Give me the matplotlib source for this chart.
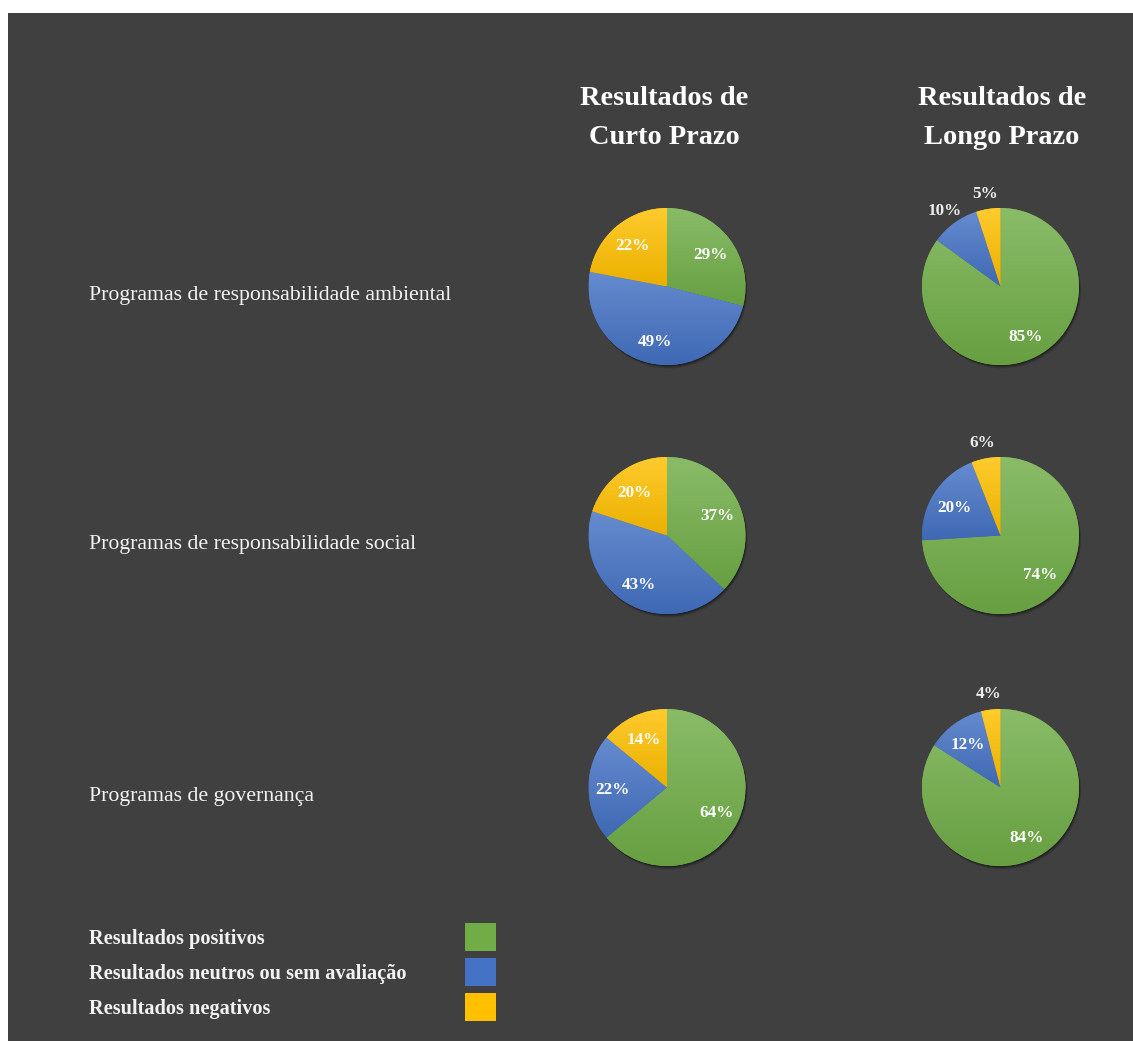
import numpy as np
import matplotlib.pyplot as plt
from matplotlib.patches import Rectangle, Circle
from matplotlib.colors import to_rgb

# Survey results per program type
programs = ['Programas de responsabilidade ambiental',
            'Programas de responsabilidade social',
            'Programas de governança']
periods = ['Resultados de\nCurto Prazo', 'Resultados de\nLongo Prazo']
categories = ['Resultados positivos',
              'Resultados neutros ou sem avaliação',
              'Resultados negativos']
short_term = [[29, 49, 22], [37, 43, 20], [64, 22, 14]]
long_term = [[85, 10, 5], [74, 20, 6], [84, 12, 4]]
colors = ['#70AD47', '#4472C4', '#FFC000']

W, H = 1133, 1041
BG = '#404040'
FONT = 'Liberation Serif'

fig = plt.figure(figsize=(W / 100, H / 100), dpi=100)
fig.patch.set_facecolor('white')
ax = fig.add_axes([0, 0, 1, 1])
ax.set_axis_off()

# dark panel
ax.add_patch(Rectangle((8, 0), W - 8, H - 13, facecolor=BG, edgecolor='none', zorder=0))


def shade(c, f):
    # f > 0 lightens towards white, f < 0 darkens
    c = np.array(to_rgb(c))
    return c + (1 - c) * f if f > 0 else c * (1 + f)


def gradient_fill(wedge, color):
    # vertical gradient, lighter at the top of each slice
    bb = wedge.get_path().get_extents()
    top, bot = shade(color, 0.18), shade(color, -0.08)
    t = np.linspace(0, 1, 64)[:, None]
    img = (top[None, :] * (1 - t) + bot[None, :] * t)[:, None, :]
    im = ax.imshow(img, extent=(bb.x0, bb.x1, bb.y0, bb.y1), origin='upper',
                   aspect='auto', interpolation='bilinear', zorder=2)
    im.set_clip_path(wedge)


col_x = [667, 1000.5]
row_y = [H - 286.5, H - 535.5, H - 787.5]
R = 78.5

for j, data in enumerate([short_term, long_term]):
    for i, vals in enumerate(data):
        cx, cy = col_x[j], row_y[i]
        # soft drop shadow
        for k, a in [(3.5, 0.10), (2.5, 0.15), (1.5, 0.25)]:
            ax.add_patch(Circle((cx + k * 0.6, cy - k), R, facecolor='black',
                                alpha=a, edgecolor='none', zorder=1))
        wedges, _ = ax.pie(vals, colors=colors, startangle=90, counterclock=False,
                           center=(cx, cy), radius=R,
                           wedgeprops=dict(edgecolor='none', zorder=2))
        for w, v, c in zip(wedges, vals, colors):
            gradient_fill(w, c)
            mid = np.deg2rad((w.theta1 + w.theta2) / 2)
            if v <= 10:
                d, tc = 1.22, '#EDEDED'
            else:
                d, tc = 0.7, 'white'
            ax.text(cx + d * R * np.cos(mid), cy + d * R * np.sin(mid) - 2, f'{v}%',
                    ha='center', va='center', color=tc, fontsize=12.3,
                    fontweight='bold', family=FONT, zorder=4)

# column headings
for x, title in zip([664, 1002], periods):
    ax.text(x, H - 118, title, ha='center', va='center', color='white',
            fontsize=20.4, fontweight='bold', family=FONT, linespacing=1.72)

# row labels
for y, name in zip(row_y, programs):
    ax.text(89, y - 9, name, ha='left', va='center', color='#F2F2F2',
            fontsize=15.7, family=FONT)

# legend
leg_y = [H - 939, H - 974, H - 1009]
for y, name, c in zip(leg_y, categories, colors):
    ax.text(89, y, name, ha='left', va='center', color='#F2F2F2',
            fontsize=14.7, fontweight='bold', family=FONT)
    ax.add_patch(Rectangle((465, y - 12), 31, 28, facecolor=c, edgecolor='none'))

ax.set_xlim(0, W)
ax.set_ylim(0, H)
ax.set_aspect('auto')
fig.savefig('out.png', dpi=100, facecolor=fig.get_facecolor())
